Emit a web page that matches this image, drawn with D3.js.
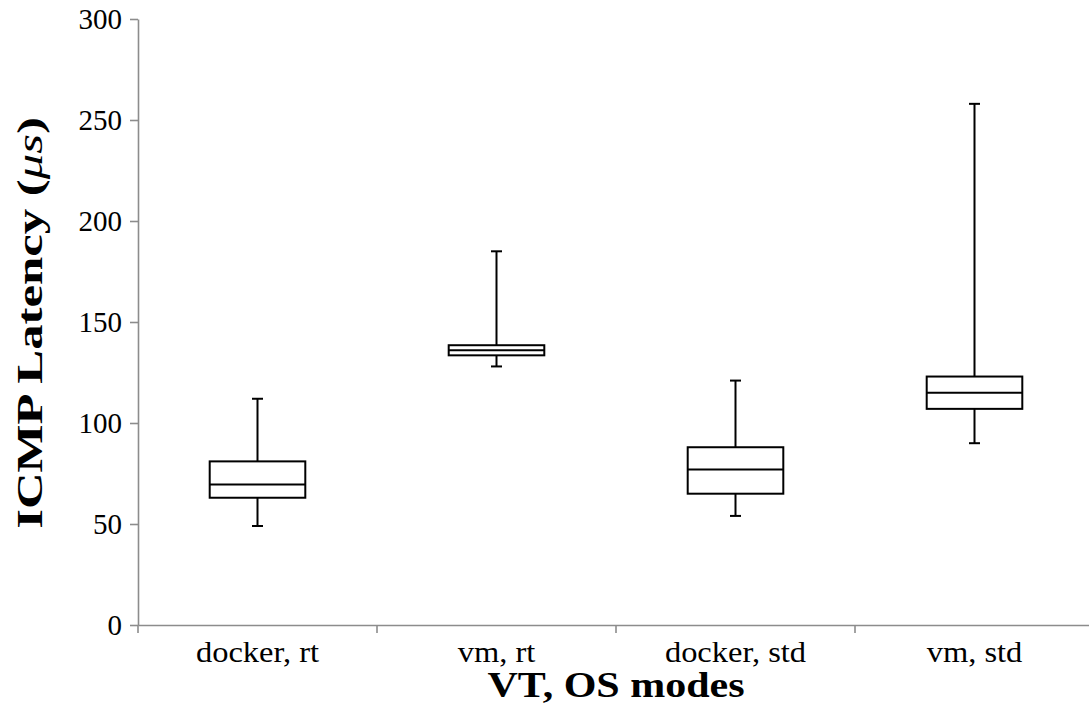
<!DOCTYPE html>
<html><head><meta charset="utf-8">
<script src="https://cdn.jsdelivr.net/npm/d3@7"></script>
<style>body{margin:0;background:#fff;}</style>
</head><body>
<svg id="c" width="1089" height="708"></svg>
<script>
const categories = ["docker, rt", "vm, rt", "docker, std", "vm, std"];
const whiskerLow = [49, 128, 54, 90];
const q1 = [63, 133.5, 65, 107];
const median = [69.5, 136, 77, 115];
const q3 = [81, 138.5, 88, 123];
const whiskerHigh = [112, 185, 121, 258];
const yTicks = [0, 50, 100, 150, 200, 250, 300];

const FONT = "Liberation Serif";
const svg = d3.select("#c");
const x = d3.scaleBand().domain(categories).range([138, 1094]).padding(0);
const y = d3.scaleLinear().domain([0, 300]).range([625, 19]);

const data = categories.map((c, i) => ({c, lo: whiskerLow[i], q1: q1[i], med: median[i], q3: q3[i], hi: whiskerHigh[i]}));

// axes
const yAxis = svg.append("g").attr("transform", "translate(138,0)")
  .call(d3.axisLeft(y).tickValues(yTicks).tickSize(8).tickSizeOuter(0).tickPadding(8));
const xAxis = svg.append("g").attr("transform", "translate(0,625)")
  .call(d3.axisBottom(x).tickSize(0).tickSizeOuter(0).tickPadding(0));
[yAxis, xAxis].forEach(a => {
  a.attr("font-family", null);
  a.select(".domain").attr("stroke", "#8c8c8c").attr("stroke-width", 1.6);
  a.selectAll(".tick line").attr("stroke", "#8c8c8c").attr("stroke-width", 1.6);
  a.selectAll("text").attr("fill", "#000").attr("font-family", FONT).attr("font-size", 29);
});
yAxis.selectAll("text").attr("dy", "0.33em");
xAxis.selectAll("text").attr("y", 37).attr("dy", 0)
  .each(function() { const w = this.getComputedTextLength(); d3.select(this).attr("textLength", w * 1.12).attr("lengthAdjust", "spacingAndGlyphs"); });
// x tick marks at band boundaries
svg.append("g").selectAll("line").data(categories).join("line")
  .attr("x1", d => x(d)).attr("x2", d => x(d))
  .attr("y1", 625).attr("y2", 633)
  .attr("stroke", "#8c8c8c").attr("stroke-width", 1.6);

// boxes
const bw = x.bandwidth() * 0.4;
const cap = 11;
const g = svg.append("g").attr("stroke", "#000").attr("stroke-width", 2).attr("fill", "none");
const b = g.selectAll("g").data(data).join("g")
  .attr("transform", d => `translate(${x(d.c) + x.bandwidth()/2},0)`);
b.append("line").attr("x1", 0).attr("x2", 0).attr("y1", d => y(d.hi)).attr("y2", d => y(d.q3));
b.append("line").attr("x1", 0).attr("x2", 0).attr("y1", d => y(d.q1)).attr("y2", d => y(d.lo));
b.append("line").attr("x1", -cap/2).attr("x2", cap/2).attr("y1", d => y(d.hi)).attr("y2", d => y(d.hi));
b.append("line").attr("x1", -cap/2).attr("x2", cap/2).attr("y1", d => y(d.lo)).attr("y2", d => y(d.lo));
b.append("rect").attr("x", -bw/2).attr("width", bw)
  .attr("y", d => y(d.q3)).attr("height", d => y(d.q1) - y(d.q3)).attr("fill", "#fff");
b.append("line").attr("x1", -bw/2).attr("x2", bw/2).attr("y1", d => y(d.med)).attr("y2", d => y(d.med));

// titles
const xt = svg.append("text").attr("x", 616).attr("y", 697).attr("text-anchor", "middle")
  .attr("font-family", FONT).attr("font-size", 35).attr("font-weight", "bold").text("VT, OS modes");
xt.attr("textLength", xt.node().getComputedTextLength() * 1.2).attr("lengthAdjust", "spacingAndGlyphs");
const yt = svg.append("text").attr("transform", "translate(42,323) rotate(-90)").attr("text-anchor", "middle")
  .attr("font-family", FONT).attr("font-size", 35).attr("font-weight", "bold");
yt.append("tspan").text("ICMP Latency (");
yt.append("tspan").attr("font-style", "italic").attr("font-weight", "normal").text("μs");
yt.append("tspan").text(")");
yt.attr("textLength", yt.node().getComputedTextLength() * 1.45).attr("lengthAdjust", "spacingAndGlyphs");
</script>
</body></html>
